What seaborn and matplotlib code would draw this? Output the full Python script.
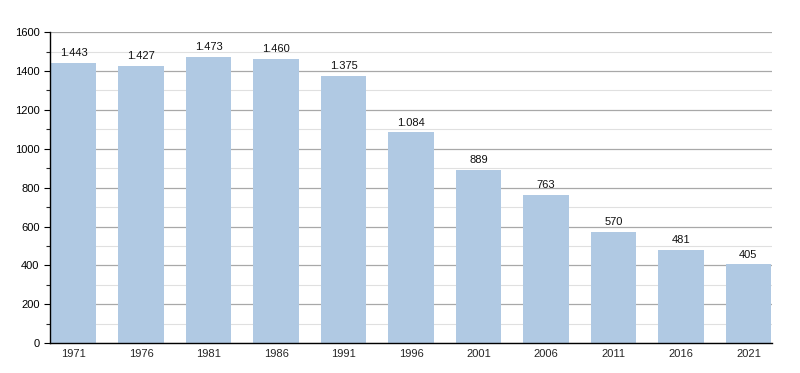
import matplotlib
matplotlib.use('Agg')
import matplotlib.pyplot as plt
import seaborn as sns
import pandas as pd
from matplotlib.ticker import MultipleLocator

years = ['1971', '1976', '1981', '1986', '1991', '1996', '2001', '2006', '2011', '2016', '2021']
population = [1443, 1427, 1473, 1460, 1375, 1084, 889, 763, 570, 481, 405]

df = pd.DataFrame({'year': years, 'pop': population})

sns.set_style('white')
plt.rcParams['font.family'] = ['Liberation Sans', 'DejaVu Sans']

fig = plt.figure(figsize=(8, 3.73), dpi=100)
ax = fig.add_axes([0.0625, 0.080, 0.9025, 0.834])

ax.yaxis.set_major_locator(MultipleLocator(200))
ax.yaxis.set_minor_locator(MultipleLocator(100))
ax.grid(axis='y', which='major', color='#a8a8a8', linewidth=0.9, zorder=0)
ax.grid(axis='y', which='minor', color='#e0e0e0', linewidth=0.8, zorder=0)
ax.set_axisbelow(True)

sns.barplot(data=df, x='year', y='pop', color='#b0c9e3', saturation=1,
            width=0.67, linewidth=0, ax=ax, zorder=2)

for i, v in enumerate(population):
    lab = f'{v:,}'.replace(',', '.')
    ax.text(i, v + 25, lab, ha='center', va='bottom', fontsize=8, color='#111111')

ax.set_xlim(-0.35, 10.35)
ax.set_ylim(0, 1600)
ax.set_xlabel('')
ax.set_ylabel('')
for s in ['top', 'right']:
    ax.spines[s].set_visible(False)
ax.spines['left'].set_color('black')
ax.spines['bottom'].set_color('black')
ax.spines['left'].set_linewidth(1)
ax.spines['bottom'].set_linewidth(1)
ax.tick_params(axis='y', which='major', left=True, length=4, width=0.8, labelsize=8, colors='black')
ax.tick_params(axis='y', which='minor', left=True, length=3, width=0.8)
ax.tick_params(axis='x', bottom=False, labelsize=8, pad=1)

fig.savefig('out.png', dpi=100)
